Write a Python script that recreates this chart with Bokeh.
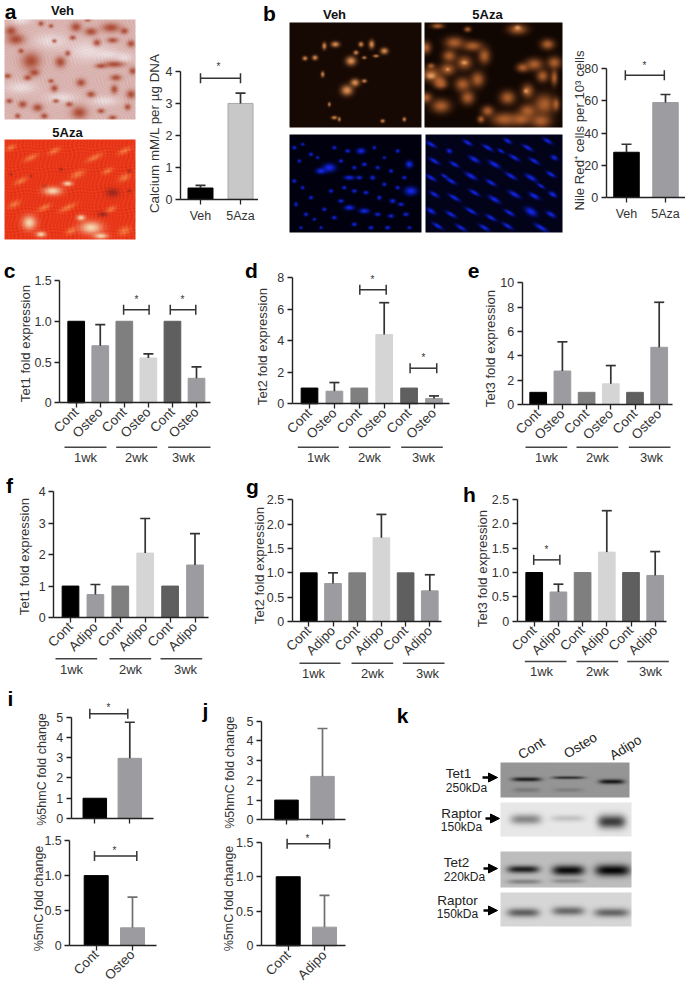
import numpy as np
from bokeh.embed import file_html
from bokeh.resources import INLINE
from bokeh.layouts import row, column
from bokeh.plotting import figure
from bokeh.models import Range1d, FixedTicker, Label, Arrow, NormalHead

FONT = "Liberation Sans"
INK = "#333333"

# ---------- chart values ----------
a_labels = ["Veh", "5Aza"]; a_values = [0.35, 3.0]; a_err = [0.43, 3.32]
b_labels = ["Veh", "5Aza"]; b_values = [28, 59]; b_err = [33, 64]
osteo_labels = ["Cont", "Osteo"] * 3
adipo_labels = ["Cont", "Adipo"] * 3
weeks = ["1wk", "2wk", "3wk"]
c_values = [1, 0.70, 1, 0.55, 1, 0.30]; c_err = [None, 0.96, None, 0.60, None, 0.44]
d_values = [1, 0.80, 1, 4.40, 1, 0.33]; d_err = [None, 1.35, None, 6.42, None, 0.50]
e_values = [1, 2.75, 1, 1.70, 1, 4.70]; e_err = [None, 5.15, None, 3.20, None, 8.40]
f_values = [1, 0.73, 1, 2.05, 1, 1.67]; f_err = [None, 1.05, None, 3.15, None, 2.67]
g_values = [1, 0.78, 1, 1.72, 1, 0.63]; g_err = [None, 1.00, None, 2.20, None, 0.96]
h_values = [1, 0.60, 1, 1.42, 1, 0.94]; h_err = [None, 0.76, None, 2.27, None, 1.43]
i5hmc_values = [1, 2.97]; i5hmc_err = [None, 4.75]
i5mc_values = [1, 0.25]; i5mc_err = [None, 0.69]
j5hmc_values = [1, 2.20]; j5hmc_err = [None, 4.63]
j5mc_values = [1, 0.27]; j5mc_err = [None, 0.73]

six_colors = ["#000000", "#9c9ca0", "#7f7f7f", "#d5d5d5", "#5f5f5f", "#9c9ca0"]
tick_half = ["0", "0.5", "1.0", "1.5", "2.0", "2.5"]

# ---------- hand-read spots of the micrographs (zoom px: x, y, rx, ry) ----------
veh_stain = [(45,115,22,14),(30,90,14,12),(90,180,24,22),(178,183,14,14),(200,157,7,7),(100,215,13,9),(80,230,10,7),
             (160,262,9,9),(120,68,7,6),(225,78,14,12),(270,92,16,10),(330,80,24,12),(288,125,10,9),(335,118,14,7),
             (390,128,10,9),(370,90,10,8),(340,190,26,8),(300,195,14,6),(395,210,9,9),(345,230,14,8),(240,245,12,10),
             (270,280,11,8),(340,265,9,11),(390,280,12,11),(235,335,20,16),(110,320,13,10),(65,310,11,9),(380,318,8,8),
             (130,345,9,7),(335,350,10,6),(205,310,9,6),(60,150,7,6),(20,225,9,6),(150,240,7,5),(50,345,7,6),(160,120,6,5),
             (215,110,8,6),(260,55,8,6),(150,75,6,5),(300,330,9,6),(165,300,8,5),(25,300,8,6)]
veh_fibre = [(150,120,50,22),(260,150,60,30),(60,260,45,18),(180,290,45,15),(310,300,40,14),(320,160,40,12),(60,60,30,10),(370,170,25,14)]
aza_white = [(155,570,26,12),(200,548,14,7),(85,665,20,20),(270,680,32,18),(240,650,12,8),(300,705,20,8),(120,700,14,8)]
aza_orange = [(230,520,22,10),(330,625,16,8),(90,470,22,8),(160,450,18,8),(280,470,26,8),(370,450,20,8),(60,540,20,8),
              (370,530,18,10),(200,620,26,8),(130,620,20,8),(40,610,18,9),(370,690,18,12),(320,510,16,8),(210,690,16,9),(30,440,14,8)]
aza_dark = [(335,575,20,13),(305,640,14,7),(30,520,4,4),(180,505,5,5),(385,510,5,5),(385,570,5,5),(130,555,4,4),(90,525,4,4)]
bv_orange = [(912,172,7,6),(942,170,8,7),(970,135,6,10),(1003,130,12,8),(965,220,5,8),(985,310,4,6),(1015,355,4,6),
             (1080,130,7,7),(1112,130,8,12),(1150,150,11,9),(1065,155,7,6),(1050,180,15,13),(1062,245,13,11),(1038,268,17,15),
             (1090,240,7,5),(1145,360,6,5),(1210,355,5,6),(1125,165,8,4),(1000,350,8,5),(1090,170,6,4)]
ba_orange = [(1290,220,22,16),(1315,240,14,12),(1290,195,8,6),(1360,125,22,14),(1415,135,22,12),(1450,165,14,18),(1345,165,16,14),
             (1390,185,18,16),(1340,205,18,14),(1385,250,18,16),(1430,235,16,18),(1320,250,14,10),(1400,290,16,16),(1320,315,22,16),
             (1275,290,14,12),(1275,140,12,14),(1550,85,22,12),(1520,290,18,16),(1580,270,14,16),(1600,190,20,14),(1660,185,16,14),
             (1625,225,14,14),(1565,200,14,10),(1640,130,16,12),(1660,230,8,18),(1630,310,24,24),(1580,330,20,16),(1510,355,30,16),
             (1560,355,24,14),(1620,360,24,16),(1460,330,14,12),(1440,355,8,8),(1665,310,8,14),(1310,75,14,6),(1400,85,8,6)]
ba_bright = [(1290,225,12,8),(1390,185,8,5),(1575,270,6,6),(1550,80,8,6),(1340,205,5,4)]
bv_blue = [(880,440,6,5),(905,430,5,4),(930,460,6,5),(895,480,5,5),(960,510,14,8),(985,500,18,12),(950,470,5,4),(880,540,6,5),
           (905,560,5,5),(930,590,6,5),(885,610,5,6),(915,640,6,5),(940,655,5,4),(970,625,6,5),(960,680,5,4),(990,570,6,5),
           (1000,440,6,5),(1020,480,6,5),(1040,450,7,5),(1080,450,12,8),(1120,440,5,5),(1150,470,5,4),(1190,450,6,5),
           (1225,490,10,10),(1060,500,6,5),(1090,490,7,5),(1130,500,6,5),(1170,510,6,5),(1210,530,6,5),(1045,530,14,6),(1075,530,8,5),
           (1115,530,7,6),(1150,550,6,5),(1190,560,6,5),(1230,570,18,12),(1060,570,7,5),(1095,575,7,5),(1135,590,6,6),(1175,600,8,6),
           (1020,600,8,5),(1045,620,14,7),(1090,630,14,7),(1130,640,8,5),(1170,645,8,5),(1215,640,8,5),(1060,670,7,5),(1110,680,7,5),
           (1160,680,7,5),(1000,650,7,5),(1200,610,8,5),(1030,560,6,5),(900,680,5,4),(1225,680,6,4)]
ba_blue = [(1290,430,16,5),(1345,450,8,6),(1400,425,14,5),(1460,440,16,5),(1520,420,12,5),(1580,440,16,5),(1640,420,14,5),
           (1300,480,16,5),(1360,490,14,5),(1420,475,16,6),(1480,490,18,6),(1540,470,16,5),(1600,480,16,5),(1660,470,10,6),
           (1290,530,16,5),(1350,540,16,5),(1410,525,18,6),(1470,545,16,5),(1530,525,18,5),(1590,530,18,6),(1650,520,14,5),
           (1300,580,14,5),(1360,590,18,5),(1420,575,16,5),(1480,595,18,6),(1540,580,18,6),(1600,585,16,6),(1655,580,12,6),
           (1290,630,14,6),(1350,640,16,5),(1410,630,18,5),(1470,650,16,5),(1525,635,16,5),(1590,632,18,10),(1650,640,14,6),
           (1310,675,16,5),(1380,680,16,5),(1450,680,16,5),(1520,675,16,5),(1620,680,20,6),(1330,525,10,4),(1500,450,10,4),(1620,555,12,4)]
tet1_bands = [(437,265,44,6,25),(562,260,48,4,40),(692,272,38,7,20),(437,297,40,7,120),(562,297,44,6,125)]
rap1_bands = [(435,385,46,15,135),(560,382,50,10,195),(692,392,42,20,60)]
tet2_bands = [(427,535,48,11,30),(562,538,48,15,10),(695,538,52,17,5),(430,572,50,7,130),(560,570,48,7,140)]
rap2_bands = [(427,665,48,13,95),(562,660,48,13,105),(692,665,52,13,100)]


def blend(img, spots, color, alpha, x0, y0, angle=0.0, blur=1.0):
    """paint soft spots (given in 3x px of the reference page) into an RGB float image"""
    h, w = img.shape[:2]
    yy, xx = np.mgrid[0:h, 0:w]
    ca, sa = np.cos(np.radians(angle)), np.sin(np.radians(angle))
    col = np.array(color, float)
    for s in spots:
        dx = xx + x0 - s[0] / 3
        dy = yy + y0 - s[1] / 3
        u, v = (dx * ca + dy * sa) / (s[2] / 3 * blur), (-dx * sa + dy * ca) / (s[3] / 3 * blur)
        g = alpha * np.exp(-(u * u + v * v))[..., None]
        img[:] = img * (1 - g) + col * g


def weave(img, amp, fx, fy):
    """a fine fibre-like grain so that a micrograph does not look flat"""
    h, w = img.shape[:2]
    yy, xx = np.mgrid[0:h, 0:w]
    grain = np.sin(xx * fx + yy * fy + 2.0 * np.sin(yy * 0.31)) * np.sin(xx * fy * 0.7 - yy * fx * 1.3 + 1.5 * np.sin(xx * 0.23))
    img[:] = img + amp * grain[..., None]


def bands(img, spots, x0, y0):
    h, w = img.shape[:2]
    yy, xx = np.mgrid[0:h, 0:w]
    for s in spots:
        dx = (xx + x0 - s[0] / 3) / (s[2] / 3)
        dy = (yy + y0 - s[1] / 3) / (s[3] / 3)
        g = np.exp(-dx ** 4 - dy ** 2)[..., None]
        img[:] = img * (1 - g) + s[4] * g


def canvas(x0, y0, x1, y1, base):
    img = np.zeros((int(round(y1 - y0)), int(round(x1 - x0)), 3), float)
    img[:] = base
    return img


def place(p, cell, box, img):
    h, w = img.shape[:2]
    rgba = np.zeros((h, w), dtype=np.uint32)
    view = rgba.view(dtype=np.uint8).reshape((h, w, 4))
    view[..., :3] = np.clip(img, 0, 255).astype(np.uint8)
    view[..., 3] = 255
    p.image_rgba(image=[rgba[::-1]], x=box[0], y=cell[3] - box[3], dw=box[2] - box[0], dh=box[3] - box[1])


def text(p, fl, fb, x, y, s, size=12.5, bold=False, angle=0.0, color=INK, align="center"):
    p.add_layout(Label(x=x - fl, y=fb - y, x_units="screen", y_units="screen", text=s,
                       text_font=FONT, text_font_size=f"{size}px", text_color=color,
                       text_font_style="bold" if bold else "normal", angle=angle, angle_units="deg",
                       text_align=align, text_baseline="middle"))


def photo_cell(cell):
    x0, y0, x1, y1 = cell
    p = figure(width=int(x1 - x0), height=int(y1 - y0), x_range=Range1d(x0, x1), y_range=Range1d(0, y1 - y0),
               x_axis_location=None, y_axis_location=None, min_border=0, toolbar_location=None,
               output_backend="svg", outline_line_color=None, margin=0, frame_align=False)
    p.grid.visible = False
    return p


def chart(cell, ax_x, ax_end, y0, ytop, ymax, yticks, ylabels, c0, sp, bw, values, err, colors, xlabels,
          rotate=True, line_colors=None, err_color="#333333", ytitle="", title_xy=(0, 0), tick_size=12.5,
          title_size=13.2, brackets=(), stars=(), groups=(), panel=None):
    cx0, cy0, cx1, cy1 = cell
    scale = (y0 - ytop) / ymax
    n = len(values)
    xs = list(range(1, n + 1))
    to_x = lambda px: 1 + (px - c0) / sp
    p = figure(width=int(cx1 - cx0), height=int(cy1 - cy0),
               x_range=Range1d(to_x(cx0), to_x(cx1)),
               y_range=Range1d(-(cy1 - y0) / scale, (y0 - cy0) / scale),
               min_border=0, toolbar_location=None, output_backend="svg", outline_line_color=None,
               margin=0, frame_align=False)
    p.grid.visible = False
    p.vbar(x=xs, top=values, width=bw / sp, bottom=0, fill_color=colors,
           line_color=line_colors or colors, line_width=1)
    ex = [x for x, e in zip(xs, err) if e is not None]
    ev = [v for v, e in zip(values, err) if e is not None]
    et = [e for e in err if e is not None]
    cap = 5.0 / sp
    p.segment(x0=ex, y0=ev, x1=ex, y1=et, line_color=err_color, line_width=1.7)
    p.segment(x0=[x - cap for x in ex], y0=et, x1=[x + cap for x in ex], y1=et, line_color=err_color, line_width=1.7)
    for b in brackets:
        t = 5.0 / scale
        p.segment(x0=[b[0], b[0], b[1]], y0=[b[2], b[2] - t, b[2] - t], x1=[b[1], b[0], b[1]], y1=[b[2], b[2] + t, b[2] + t],
                  line_color="#333333", line_width=1.5)
    ax = p.xaxis[0]
    ax.ticker = FixedTicker(ticks=xs)
    ax.major_label_overrides = {x: s for x, s in zip(xs, xlabels)}
    ax.major_label_orientation = np.pi / 4 if rotate else "horizontal"
    ax.major_label_standoff = 2 if rotate else 5
    ax.fixed_location = 0
    ax.bounds = (to_x(ax_x), to_x(ax_end))
    ay = p.yaxis[0]
    ay.ticker = FixedTicker(ticks=list(yticks))
    ay.major_label_overrides = {t: s for t, s in zip(yticks, ylabels)}
    ay.bounds = (0, ymax)
    ay.major_label_standoff = 3
    ay.fixed_location = to_x(ax_x)
    for a in (ax, ay):
        a.axis_line_color = "#222222"; a.axis_line_width = 1.4
        a.major_tick_line_color = "#222222"; a.major_tick_line_width = 1.3
        a.major_tick_out = 5; a.major_tick_in = 0
        a.minor_tick_line_color = None
        a.major_label_text_font = FONT; a.major_label_text_font_size = f"{tick_size}px"
        a.major_label_text_color = INK
    ax.major_label_text_font_size = f"{13.5 if rotate else tick_size}px"
    text(p, cx0, cy1, title_xy[0], title_xy[1], ytitle, angle=90, size=title_size)
    for sx, sy in stars:
        text(p, cx0, cy1, sx, sy, "*", size=10)
    for (gx0, gx1, gy, lx, ly), wk in zip(groups, weeks):
        p.add_layout(Arrow(x_start=gx0 - cx0, y_start=cy1 - gy, x_end=gx1 - cx0, y_end=cy1 - gy,
                           start_units="screen", end_units="screen", end=None, line_color="#444444", line_width=1.6))
        text(p, cx0, cy1, lx, ly, wk, size=13)
    if panel:
        text(p, cx0, cy1, panel[0], panel[1], panel[2], size=21, bold=True, color="#000000")
    return p


# ---------- row 1 ----------
cell = (0, 0, 145, 245)
pa = photo_cell(cell)
box = (4, 19, 135, 119)
img = canvas(*box, (218, 180, 176))
blend(img, veh_fibre, (238, 225, 228), 0.85, box[0], box[1])
weave(img, 16, 1.4, 0.9)
blend(img, veh_stain, (165, 58, 32), 0.85, box[0], box[1], blur=1.15)
place(pa, cell, box, img)
box = (4, 139, 135, 239)
img = canvas(*box, (232, 55, 25))
blend(img, aza_orange, (246, 140, 75), 0.75, box[0], box[1], angle=-25)
weave(img, 14, 0.9, 1.2)
blend(img, aza_dark, (135, 35, 30), 0.75, box[0], box[1])
blend(img, aza_white, (245, 225, 185), 0.95, box[0], box[1])
place(pa, cell, box, img)
text(pa, 0, 245, 10, 11, "a", size=21, bold=True, color="#000000")
text(pa, 0, 245, 62, 10, "Veh", size=13, bold=True, color="#111111")
text(pa, 0, 245, 67, 132, "5Aza", size=13, bold=True, color="#111111")

p_a = chart((145, 0, 258, 245), 180, 258, 198.7, 71, 4, [0, 1, 2, 3, 4], ["0", "1", "2", "3", "4"], 200, 40, 25,
            a_values, a_err, ["#000000", "#c8c8c8"], a_labels, rotate=False, line_colors=["#000000", "#a8a8a8"],
            ytitle="Calcium mM/L  per µg DNA", title_xy=(154, 131), title_size=13.4, brackets=[(1, 2, 3.79)], stars=[(218, 66)])

cell = (258, 0, 570, 245)
pb = photo_cell(cell)
box = (289, 22, 421, 127)
img = canvas(*box, (22, 8, 3))
blend(img, bv_orange, (235, 150, 85), 0.95, box[0], box[1])
place(pb, cell, box, img)
box = (424, 22, 562, 127)
img = canvas(*box, (16, 6, 2))
blend(img, ba_orange, (190, 105, 50), 0.9, box[0], box[1], blur=1.25)
blend(img, ba_bright, (245, 175, 110), 0.85, box[0], box[1])
place(pb, cell, box, img)
box = (289, 134, 421, 232)
img = canvas(*box, (0, 0, 14))
blend(img, bv_blue, (18, 40, 245), 1.0, box[0], box[1])
place(pb, cell, box, img)
box = (425, 134, 562, 232)
img = canvas(*box, (2, 2, 25))
blend(img, ba_blue, (18, 40, 250), 1.0, box[0], box[1], angle=30)
place(pb, cell, box, img)
text(pb, 258, 245, 269, 13, "b", size=21, bold=True, color="#000000")
text(pb, 258, 245, 334, 14, "Veh", size=13, bold=True, color="#111111")
text(pb, 258, 245, 487, 14, "5Aza", size=13, bold=True, color="#111111")

p_b = chart((570, 0, 685, 245), 605.7, 685, 196.7, 68.3, 80, [0, 20, 40, 60, 80], ["0", "20", "40", "60", "80"], 626, 39, 25.5,
            b_values, b_err, ["#000000", "#9d9da1"], b_labels, rotate=False,
            ytitle="Nile Red⁺ cells per 10³ cells", title_xy=(579, 130), brackets=[(0.97, 1.97, 76)], stars=[(644, 65)])

# ---------- row 2 ----------
p_c = chart((0, 245, 240, 470), 59.3, 210, 402.3, 280, 1.5, [0, 0.5, 1, 1.5], tick_half, 75.7, 24.06, 16.7,
            c_values, c_err, six_colors, osteo_labels, ytitle="Tet1 fold expression", title_xy=(25, 343),
            brackets=[(2.97, 4.03, 1.14), (4.91, 5.97, 1.14)], stars=[(136, 299), (182, 299)],
            groups=[(64, 106, 446.7, 85, 457), (115.7, 156.7, 446.7, 136, 457), (167.7, 210, 446.7, 183, 457)],
            panel=(9, 270, "c"))
p_d = chart((240, 245, 465, 470), 291.7, 449, 403.3, 277.3, 8, [0, 2, 4, 6, 8], ["0", "2", "4", "6", "8"], 309, 24.9, 16.7,
            d_values, d_err, six_colors, osteo_labels, ytitle="Tet2 fold expression", title_xy=(262, 346),
            brackets=[(3.02, 4.08, 7.24), (5.04, 6.11, 2.26)], stars=[(372, 279), (423, 357)],
            groups=[(297.3, 338.3, 446.7, 318, 457), (348.3, 390, 446.7, 369, 457), (400.7, 442.3, 446.7, 423, 457)],
            panel=(251, 270, "d"))
p_e = chart((465, 245, 685, 470), 521.7, 672.3, 404, 282.3, 10, [0, 2, 4, 6, 8, 10], ["0", "2", "4", "6", "8", "10"], 537.7, 24.2, 16.7,
            e_values, e_err, six_colors, osteo_labels, ytitle="Tet3 fold expression", title_xy=(490, 348),
            groups=[(525, 566.7, 446.7, 546, 457), (576, 617.7, 446.7, 597, 457), (628.3, 670, 446.7, 651, 457)],
            panel=(473, 270, "e"))

# ---------- row 3 ----------
p_f = chart((0, 470, 240, 685), 53.3, 208.3, 617, 491.3, 4, [0, 1, 2, 3, 4], ["0", "1", "2", "3", "4"], 70, 24.9, 16.7,
            f_values, f_err, six_colors, adipo_labels, ytitle="Tet1 fold expression", title_xy=(24, 556),
            groups=[(55, 96.7, 658.3, 71, 669), (109, 150.7, 658.3, 130, 669), (160, 201.7, 658.3, 185, 669)],
            panel=(9, 485, "f"))
p_g = chart((240, 470, 462, 685), 291.7, 441, 621, 499.3, 2.5, [0, 0.5, 1, 1.5, 2, 2.5], tick_half, 308.3, 24.2, 16.7,
            g_values, g_err, six_colors, adipo_labels, ytitle="Tet2 fold expression", title_xy=(259, 565),
            groups=[(299, 340, 662.7, 313, 673), (351, 392.7, 662.7, 372, 673), (402.3, 444, 662.7, 427, 673)],
            panel=(252, 486, "g"))
p_h = chart((462, 470, 685, 685), 516.7, 666, 620.7, 499, 2.5, [0, 0.5, 1, 1.5, 2, 2.5], tick_half, 533.7, 24.2, 16.7,
            h_values, h_err, six_colors, adipo_labels, ytitle="Tet3 fold expression", title_xy=(482, 568),
            brackets=[(0.98, 2.06, 1.26)], stars=[(546, 549)],
            groups=[(524.3, 566, 661, 541, 671), (576, 617.7, 661, 597, 671), (626.7, 668.3, 661, 650, 671)],
            panel=(469, 494, "h"))

# ---------- row 4 ----------
two = ["#000000", "#9c9ca0"]
p_it = chart((0, 685, 190, 833), 70.7, 153.3, 818, 716.7, 5, [0, 1, 2, 3, 4, 5], ["0", "1", "2", "3", "4", "5"], 94.3, 35, 23.5,
             i5hmc_values, i5hmc_err, two, ["", ""], ytitle="%5hmC fold change", title_xy=(41, 769), title_size=12.5,
             brackets=[(0.857, 1.943, 5.17)], stars=[(108, 707)], panel=(10, 698, "i"))
p_ib = chart((0, 833, 190, 981), 69.3, 155.7, 944.7, 840.3, 1.5, [0, 0.5, 1, 1.5], tick_half, 95.7, 36.3, 24,
             i5mc_values, i5mc_err, two, ["Cont", "Osteo"], err_color="#707070", ytitle="%5mC fold change", title_xy=(38, 898),
             title_size=12.5, brackets=[(0.953, 2.118, 1.28)], stars=[(114, 850)])
p_jt = chart((190, 685, 395, 833), 261, 345, 819.3, 720.7, 5, [0, 1, 2, 3, 4, 5], ["0", "1", "2", "3", "4", "5"], 286, 36, 23.5,
             j5hmc_values, j5hmc_err, two, ["", ""], err_color="#707070", ytitle="%5hmC fold change", title_xy=(229, 772),
             title_size=12.5, panel=(205, 710, "j"))
p_jb = chart((190, 833, 395, 981), 261, 345, 945.3, 841.7, 1.5, [0, 0.5, 1, 1.5], tick_half, 287.7, 36.3, 24,
             j5mc_values, j5mc_err, two, ["Cont", "Adipo"], err_color="#707070", ytitle="%5mC fold change", title_xy=(228, 898),
             title_size=12.5, brackets=[(0.97, 2.14, 1.477)], stars=[(307, 838)])

cell = (395, 685, 685, 981)
pk = photo_cell(cell)
for box, base, spots in [((500, 762, 629, 797), 150, tet1_bands), ((500, 802, 631, 836), 232, rap1_bands),
                         ((500, 851, 631, 887), 190, tet2_bands), ((500, 892, 631, 926), 215, rap2_bands)]:
    img = canvas(*box, (base, base, base))
    bands(img, [(s[0] + 1140, s[1] + 2070, s[2], s[3], s[4]) for s in spots], box[0], box[1])
    place(pk, cell, box, img)
text(pk, 395, 981, 402, 715, "k", size=21, bold=True, color="#000000")
for x, y, s in [(531, 748, "Cont"), (580, 745, "Osteo"), (625, 747, "Adipo")]:
    text(pk, 395, 981, x, y, s, size=13.5, angle=32, color="#222222")
for x, y, s, z in [(458, 773, "Tet1", 13.5), (466, 787, "250kDa", 12), (461, 813, "Raptor", 13.5), (461, 826, "150kDa", 12),
                   (456, 862, "Tet2", 13.5), (464, 876, "220kDa", 12), (457, 900, "Raptor", 13.5), (457, 913, "150kDa", 12)]:
    text(pk, 395, 981, x, y, s, size=z, color="#222222")
for x0, x1, y in [(482, 497, 777), (485, 499, 818), (483, 497, 868), (483, 497, 910)]:
    pk.add_layout(Arrow(x_start=x0 - 395, y_start=981 - y, x_end=x1 - 395, y_end=981 - y, start_units="screen", end_units="screen",
                        line_color="#000000", line_width=2.5,
                        end=NormalHead(size=9, fill_color="#000000", line_color="#000000")))

root = column(
    row(pa, p_a, pb, p_b, spacing=0),
    row(p_c, p_d, p_e, spacing=0),
    row(p_f, p_g, p_h, spacing=0),
    row(column(p_it, p_ib, spacing=0), column(p_jt, p_jb, spacing=0), pk, spacing=0),
    spacing=0, margin=0)

open("out.html", "w").write(file_html(root, INLINE))
